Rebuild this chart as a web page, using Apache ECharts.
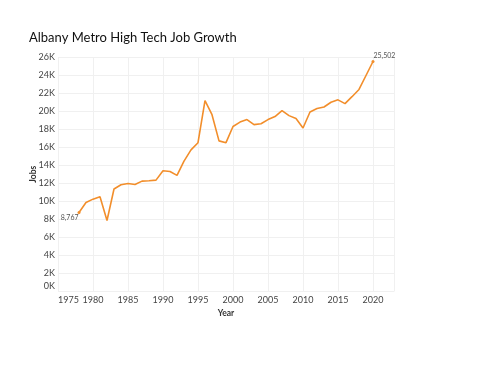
<!DOCTYPE html>
<html>
<head>
<meta charset="utf-8">
<script src="https://cdn.jsdelivr.net/npm/echarts@6/dist/echarts.min.js"></script>
<style>html,body{margin:0;padding:0;background:#fff}#c{width:497px;height:384px}</style>
</head>
<body>
<div id="c"></div>
<script>
const years = [1978,1979,1980,1981,1982,1983,1984,1985,1986,1987,1988,1989,1990,1991,1992,1993,1994,1995,1996,1997,1998,1999,2000,2001,2002,2003,2004,2005,2006,2007,2008,2009,2010,2011,2012,2013,2014,2015,2016,2017,2018,2019,2020];
const jobs = [8767,9870,10240,10500,7870,11360,11830,11980,11870,12240,12280,12350,13390,13300,12870,14450,15700,16500,21170,19600,16700,16500,18300,18780,19060,18500,18600,19060,19400,20060,19500,19170,18130,19900,20280,20460,20980,21250,20830,21600,22400,23950,25502];
const yTicks = [0,2000,4000,6000,8000,10000,12000,14000,16000,18000,20000,22000,24000,26000];
const xTicks = [1975,1980,1985,1990,1995,2000,2005,2010,2015,2020];

const fmt = n => n.toLocaleString('en-US');
const data = years.map((y, i) => {
  const item = { value: [y, jobs[i]] };
  if (i === 0) {
    item.symbol = 'circle'; item.symbolSize = 3;
    item.label = { show: true, position: 'left', offset: [6, 5], formatter: p => fmt(p.value[1]) };
  } else if (i === years.length - 1) {
    item.symbol = 'circle'; item.symbolSize = 3;
    item.label = { show: true, position: 'right', offset: [-6, -6], formatter: p => fmt(p.value[1]) };
  } else {
    item.symbol = 'none';
  }
  return item;
});

const chart = echarts.init(document.getElementById('c'), null, { renderer: 'canvas' });
const font = 'Lato, "Open Sans", sans-serif';
chart.setOption({
  animation: false,
  backgroundColor: '#ffffff',
  title: {
    text: 'Albany Metro High Tech Job Growth',
    left: 24, top: 26,
    textStyle: { fontFamily: font, fontSize: 13, fontWeight: 'normal', color: '#111' }
  },
  grid: { left: 58, right: 103, top: 57, bottom: 92.5, containLabel: false },
  xAxis: {
    type: 'value', min: 1975, max: 2023, interval: 5,
    name: 'Year', nameLocation: 'middle', nameGap: 17, nameMoveOverlap: false,
    nameTextStyle: { fontFamily: font, fontSize: 8.5, fontWeight: 'bold', color: '#333', verticalAlign: 'top' },
    axisLine: { show: false }, axisTick: { show: false },
    axisLabel: {
      margin: 4, fontFamily: font, fontSize: 9, color: '#444',
      showMaxLabel: false, alignMinLabel: 'left',
      formatter: v => xTicks.includes(v) ? String(v) : ''
    },
    splitLine: { show: true, lineStyle: { color: '#f0f0f0', width: 1 } }
  },
  yAxis: {
    type: 'value', min: 0, max: 26000, interval: 2000,
    name: 'Jobs', nameLocation: 'middle', nameGap: 20, nameMoveOverlap: false,
    nameTextStyle: { fontFamily: font, fontSize: 8.5, fontWeight: 'bold', color: '#333' },
    axisLine: { show: false }, axisTick: { show: false },
    axisLabel: {
      margin: 3, fontFamily: font, fontSize: 9, color: '#444',
      formatter: v => yTicks.includes(v) ? (v === 0 ? '{z|0K}' : (v / 1000) + 'K') : '',
      rich: { z: { fontFamily: font, fontSize: 9, color: '#444', padding: [0, 0, 11, 0] } }
    },
    splitLine: { show: true, lineStyle: { color: '#f0f0f0', width: 1 } }
  },
  series: [{
    type: 'line',
    data: data,
    showSymbol: true,
    itemStyle: { color: '#F28E2B' },
    lineStyle: { color: '#F28E2B', width: 1.6 },
    label: { fontFamily: font, fontSize: 7, color: '#555' },
    emphasis: { disabled: true }
  }]
});
</script>
</body>
</html>
